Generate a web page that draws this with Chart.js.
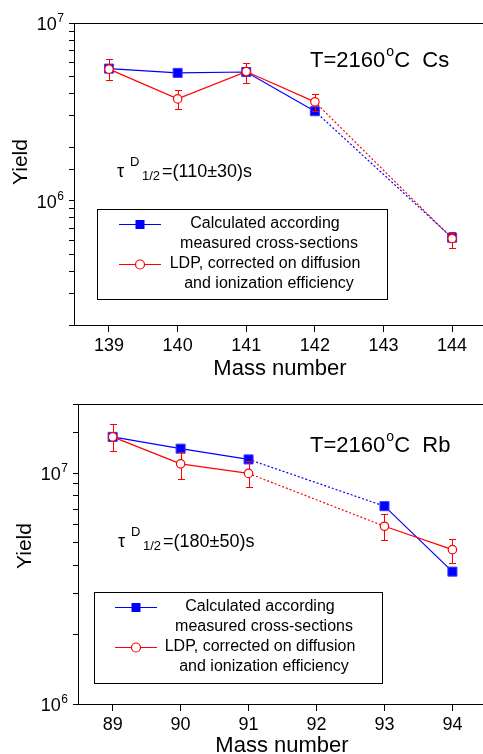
<!DOCTYPE html>
<html>
<head>
<meta charset="utf-8">
<script src="https://cdn.jsdelivr.net/npm/chart.js@4"></script>
<style>
    body { margin: 0; background: #fff; }
    .box { width: 483px; height: 377px; }
</style>
</head>
<body>
<div class="box"><canvas id="csChart" width="483" height="377"></canvas></div>
<div class="box"><canvas id="rbChart" width="483" height="377"></canvas></div>
<script>
// Cs, T=2160 C
const csMass = [139, 140, 141, 142, 144];
const csCalc = [5.54e6, 5.24e6, 5.3e6, 3.19e6, 6.2e5];
const csLdp = [5.5e6, 3.74e6, 5.33e6, 3.6e6, 6.13e5];
const csLdpLow = [4.81e6, 3.29e6, 4.58e6, 3.2e6, 5.4e5];
const csLdpHigh = [6.28e6, 4.19e6, 5.99e6, 3.99e6, 6.7e5];

// Rb, T=2160 C
const rbMass = [89, 90, 91, 93, 94];
const rbCalc = [1.44e7, 1.28e7, 1.15e7, 7.21e6, 3.75e6];
const rbLdp = [1.44e7, 1.1e7, 1.0e7, 5.9e6, 4.67e6];
const rbLdpLow = [1.25e7, 9.5e6, 8.7e6, 5.13e6, 4.1e6];
const rbLdpHigh = [1.64e7, 1.24e7, 1.13e7, 6.64e6, 5.21e6];

const yDecades = [1e6, 1e7];
const legendLines = ['Calculated according', 'measured cross-sections',
                     'LDP, corrected on diffusion', 'and ionization efficiency'];

const BLUE = '#0000ff';
const RED = '#ff0000';
const FAMILY = "'Liberation Sans', Arial, sans-serif";

function font(size) {
    return size + 'px ' + FAMILY;
}

const decorPlugin = {
    id: 'decor',
    afterDatasetDraw(chart, args, opts) {
        // error bars go on top of the blue series but under the red circles
        if (args.index !== 0) return;
        const ctx = chart.ctx;
        const x = chart.scales.x, y = chart.scales.y;
        ctx.save();
        ctx.strokeStyle = RED;
        ctx.lineWidth = 1;
        opts.mass.forEach((m, i) => {
            const px = Math.round(x.getPixelForValue(m)) + 0.5;
            const lo = Math.round(y.getPixelForValue(opts.low[i])) + 0.5;
            const hi = Math.round(y.getPixelForValue(opts.high[i])) + 0.5;
            ctx.beginPath();
            ctx.moveTo(px, lo); ctx.lineTo(px, hi);
            ctx.moveTo(px - 3.5, lo); ctx.lineTo(px + 3.5, lo);
            ctx.moveTo(px - 3.5, hi); ctx.lineTo(px + 3.5, hi);
            ctx.stroke();
        });
        ctx.restore();
    },
    afterDraw(chart, args, opts) {
        const ctx = chart.ctx;
        const area = chart.chartArea;
        const y = chart.scales.y;
        ctx.save();
        ctx.fillStyle = '#000';
        ctx.strokeStyle = '#000';
        ctx.lineWidth = 1;

        // top frame line
        ctx.beginPath();
        ctx.moveTo(area.left, Math.round(area.top) + 0.5);
        ctx.lineTo(area.right, Math.round(area.top) + 0.5);
        ctx.stroke();

        // y tick labels 10^n
        ctx.textBaseline = 'alphabetic';
        ctx.textAlign = 'right';
        opts.decades.forEach(v => {
            const py = y.getPixelForValue(v);
            const exp = String(Math.round(Math.log10(v)));
            const right = area.left - 10;
            ctx.font = font(12);
            ctx.fillText(exp, right, py - 1);
            const w = ctx.measureText(exp).width;
            ctx.font = font(18);
            ctx.fillText('10', right - w - 0.5, py + 7);
        });

        // axis titles
        ctx.font = font(21);
        ctx.textAlign = 'center';
        ctx.save();
        ctx.translate(opts.yTitle.x, opts.yTitle.y);
        ctx.rotate(-Math.PI / 2);
        ctx.fillText('Yield', 0, 0);
        ctx.restore();
        ctx.font = font(22);
        ctx.fillText('Mass number', opts.xTitle.x, opts.xTitle.y);

        // temperature label
        ctx.textAlign = 'left';
        const t = opts.label;
        ctx.font = font(22);
        ctx.fillText('T=2160', t.x, t.y);
        const tw = ctx.measureText('T=2160').width;
        ctx.font = font(14);
        ctx.fillText('o', t.x + tw + 1, t.y - 11);
        ctx.font = font(22);
        ctx.fillText(t.unit, t.x + tw + 9, t.y);

        // half-life label
        const tau = opts.tau;
        ctx.font = font(18);
        ctx.fillText('\u03c4', tau.x, tau.y);
        ctx.font = font(13);
        ctx.fillText('D', tau.x + 13, tau.y - 11);
        ctx.fillText('1/2', tau.x + 25, tau.y + 3);
        ctx.font = font(18);
        ctx.fillText(tau.value, tau.x + 45, tau.y);

        // legend box
        const lg = opts.legend;
        ctx.strokeRect(lg.x + 0.5, lg.y + 0.5, lg.w, lg.h);
        ctx.font = font(16);
        ctx.textAlign = 'center';
        ctx.textBaseline = 'middle';
        legendLines.forEach((s, i) => {
            ctx.fillText(s, lg.textX + (i % 2) * 4, lg.y + 15 + i * 20);
        });
        chart.data.datasets.forEach((ds, i) => {
            const ry = lg.y + 15 + i * 40 + 0.5;
            ctx.strokeStyle = ds.borderColor;
            ctx.beginPath();
            ctx.moveTo(lg.sampleX - 21, ry);
            ctx.lineTo(lg.sampleX + 21, ry);
            ctx.stroke();
            if (ds.pointStyle === 'rect') {
                ctx.fillStyle = ds.pointBackgroundColor;
                ctx.fillRect(lg.sampleX - 4.5, ry - 4.5, 9, 9);
            } else {
                ctx.fillStyle = '#fff';
                ctx.lineWidth = 1.2;
                ctx.beginPath();
                ctx.arc(lg.sampleX, ry, 4.5, 0, Math.PI * 2);
                ctx.fill();
                ctx.stroke();
                ctx.lineWidth = 1;
            }
        });
        ctx.restore();
    }
};

// dotted line where masses are skipped
function gapDash(c) {
    return c.p1.parsed.x - c.p0.parsed.x > 1 ? [2, 2] : undefined;
}

function drawChart(canvasId, mass, calc, ldp, s) {
    const ctx = document.getElementById(canvasId);
    new Chart(ctx, {
        type: 'line',
        data: {
            datasets: [
                {
                    label: 'Calculated according measured cross-sections',
                    data: mass.map((m, i) => ({ x: m, y: calc[i] })),
                    borderColor: BLUE,
                    borderWidth: 1.2,
                    pointStyle: 'rect',
                    pointRadius: 6.4,
                    pointBackgroundColor: BLUE,
                    pointBorderColor: '#3a3aff',
                    pointBorderWidth: 1,
                    segment: { borderDash: gapDash },
                    order: 1
                },
                {
                    label: 'LDP, corrected on diffusion and ionization efficiency',
                    data: mass.map((m, i) => ({ x: m, y: ldp[i] })),
                    borderColor: RED,
                    borderWidth: 1.2,
                    pointStyle: 'circle',
                    pointRadius: 4.2,
                    pointBackgroundColor: '#fff',
                    pointBorderColor: RED,
                    pointBorderWidth: 1.2,
                    segment: { borderDash: gapDash },
                    order: 0
                }
            ]
        },
        options: {
            responsive: false,
            animation: false,
            events: [],
            layout: {
                autoPadding: false,
                padding: { top: s.top, left: 0, right: 0, bottom: 0 }
            },
            scales: {
                x: {
                    type: 'linear',
                    min: s.xMin,
                    max: s.xMax,
                    afterFit: scale => {
                        scale.height = s.xHeight;
                        scale.paddingLeft = 0;
                        scale.paddingRight = 0;
                    },
                    ticks: {
                        stepSize: 1,
                        includeBounds: false,
                        color: '#000',
                        padding: 3,
                        font: { family: FAMILY, size: 18 }
                    },
                    grid: { drawOnChartArea: false, tickLength: 7, color: '#000' },
                    border: { color: '#000', width: 1 }
                },
                y: {
                    type: 'logarithmic',
                    min: s.yMin,
                    max: s.yMax,
                    afterFit: scale => {
                        scale.width = s.yWidth;
                        scale.paddingTop = 0;
                        scale.paddingBottom = 0;
                    },
                    ticks: { display: false, autoSkip: false },
                    grid: { drawOnChartArea: false, tickLength: 5, color: '#000' },
                    border: { color: '#000', width: 1 }
                }
            },
            plugins: {
                legend: { display: false },
                tooltip: { enabled: false },
                decor: s.decor
            }
        },
        plugins: [decorPlugin]
    });
}

drawChart('csChart', csMass, csCalc, csLdp, {
    top: 23, xHeight: 52, yWidth: 74,
    xMin: 138.49, xMax: 144.45, yMin: 2e5, yMax: 1e7,
    decor: {
        mass: csMass, low: csLdpLow, high: csLdpHigh, decades: yDecades,
        yTitle: { x: 27, y: 162 },
        xTitle: { x: 280, y: 375 },
        label: { x: 310, y: 67, unit: 'C  Cs' },
        tau: { x: 117, y: 177, value: '=(110\u00b130)s' },
        legend: { x: 97, y: 209, w: 290, h: 90, sampleX: 140, textX: 265 }
    }
});

drawChart('rbChart', rbMass, rbCalc, rbLdp, {
    top: 27, xHeight: 50, yWidth: 78,
    xMin: 88.49, xMax: 94.45, yMin: 1e6, yMax: 2e7,
    decor: {
        mass: rbMass, low: rbLdpLow, high: rbLdpHigh, decades: yDecades,
        yTitle: { x: 31, y: 169 },
        xTitle: { x: 282, y: 375 },
        label: { x: 310, y: 75, unit: 'C  Rb' },
        tau: { x: 118, y: 170, value: '=(180\u00b150)s' },
        legend: { x: 94, y: 215, w: 288, h: 91, sampleX: 136, textX: 260 }
    }
});
</script>
</body>
</html>
